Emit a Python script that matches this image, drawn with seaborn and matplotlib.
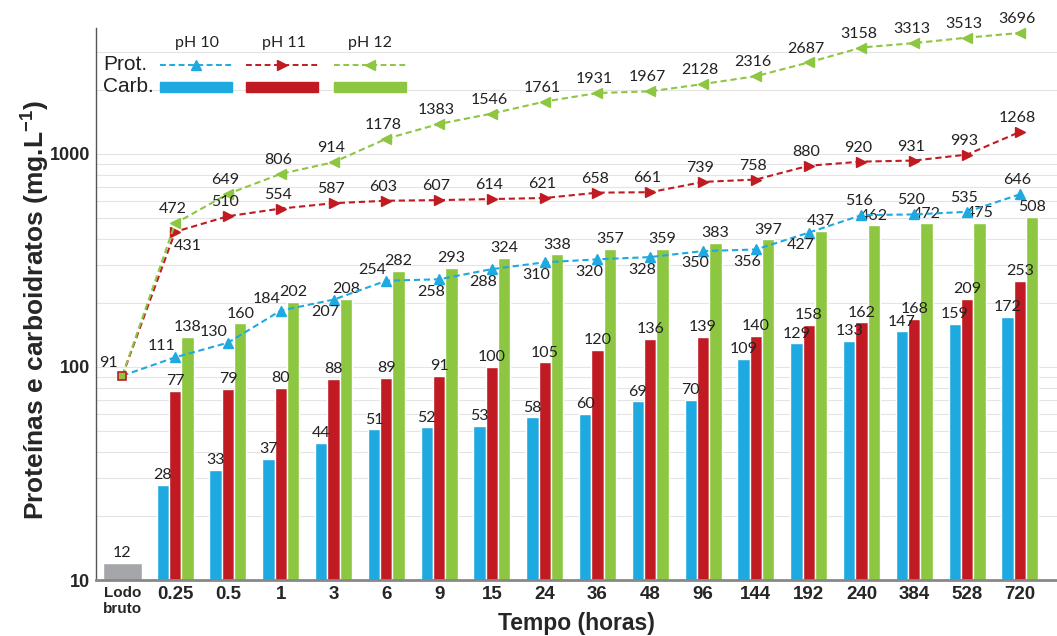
import matplotlib
matplotlib.use("Agg")
import matplotlib.pyplot as plt
import numpy as np
import pandas as pd
import seaborn as sns

categories = ["Lodo\nbruto", "0.25", "0.5", "1", "3", "6", "9", "15", "24", "36",
              "48", "96", "144", "192", "240", "384", "528", "720"]
ph_levels = ["pH 10", "pH 11", "pH 12"]

lodo_carb = 12
carb_ph10 = [28, 33, 37, 44, 51, 52, 53, 58, 60, 69, 70, 109, 129, 133, 147, 159, 172]
carb_ph11 = [77, 79, 80, 88, 89, 91, 100, 105, 120, 136, 139, 140, 158, 162, 168, 209, 253]
carb_ph12 = [138, 160, 202, 208, 282, 293, 324, 338, 357, 359, 383, 397, 437, 462, 472, 475, 508]

prot_ph10 = [91, 111, 130, 184, 207, 254, 258, 288, 310, 320, 328, 350, 356, 427, 516, 520, 535, 646]
prot_ph11 = [91, 431, 510, 554, 587, 603, 607, 614, 621, 658, 661, 739, 758, 880, 920, 931, 993, 1268]
prot_ph12 = [91, 472, 649, 806, 914, 1178, 1383, 1546, 1761, 1931, 1967, 2128, 2316, 2687, 3158, 3313, 3513, 3696]

BLUE = "#1EA9E1"
RED = "#C01B22"
GREEN = "#8DC641"
GRAY = "#A4A6A9"
LABEL_FONT = "Lato"
LABEL_SIZE = 11.5

# where each line label sits relative to its marker (offset in points)
OFFSETS = {"up": (-2, 5), "upleft": (-10, 3), "down": (-6, -14), "downright": (9, -15)}
place_ph10 = ["upleft", "upleft", "upleft", "upleft", "down", "upleft", "down", "down", "down",
              "down", "down", "down", "down", "down", "up", "up", "up", "up"]
place_ph11 = ["up", "downright"] + ["up"] * 16
place_ph12 = ["up"] * 18

sns.set_theme(style="white")
plt.rcParams["font.family"] = ["Liberation Sans", "DejaVu Sans"]

carb = pd.DataFrame({
    "tempo": categories[1:] * 3,
    "pH": np.repeat(ph_levels, len(carb_ph10)),
    "valor": carb_ph10 + carb_ph11 + carb_ph12,
})
lodo = pd.DataFrame({"tempo": [categories[0]], "valor": [lodo_carb]})

fig = plt.figure(figsize=(10.57, 6.36), dpi=100)
ax = fig.add_axes([0.0908, 0.088, 0.909, 0.868])

sns.barplot(data=lodo, x="tempo", y="valor", order=categories, color=GRAY,
            width=0.75, saturation=1, ax=ax)
sns.barplot(data=carb, x="tempo", y="valor", hue="pH", order=categories,
            hue_order=ph_levels, palette=[BLUE, RED, GREEN], width=0.7,
            saturation=1, legend=False, ax=ax)

for container in ax.containers:
    ax.bar_label(container, fmt="%d", padding=2, fontsize=LABEL_SIZE, family=LABEL_FONT,
                 color="#222222")

x = np.arange(len(categories))
series = [(prot_ph10, BLUE, "^", place_ph10),
          (prot_ph11, RED, ">", place_ph11),
          (prot_ph12, GREEN, "<", place_ph12)]
for values, color, marker, places in series:
    ax.plot(x, values, ls=(0, (3, 1.8)), lw=1.5, color=color, marker=marker,
            markersize=7.5, markevery=list(range(1, len(x))), zorder=4)
    for xi, v, p in list(zip(x, values, places))[1:]:
        ax.annotate(str(v), (xi, v), xytext=OFFSETS[p], textcoords="offset points",
                    ha="center", va="bottom", fontsize=LABEL_SIZE, family=LABEL_FONT,
                    color="#222222", zorder=5)

ax.plot([0], [prot_ph11[0]], marker="s", markersize=6, color=GREEN,
        markeredgecolor=RED, markeredgewidth=1.2, zorder=6)
ax.annotate(str(prot_ph10[0]), (0, prot_ph10[0]), xytext=(-10, 4),
            textcoords="offset points", ha="center", va="bottom",
            fontsize=LABEL_SIZE, family=LABEL_FONT, color="#222222")

ax.set_yscale("log")
ax.set_ylim(10, 3900)
ax.set_xlim(-0.5, 17.7)
ax.set_yticks([10, 100, 1000])
ax.set_yticklabels(["10", "100", "1000"], fontsize=13, fontweight="bold")
ax.set_xticks(x)
ax.set_xticklabels(categories, fontsize=13.5, fontweight="bold")
ax.get_xticklabels()[0].set_fontsize(11)
ax.tick_params(axis="both", length=0, pad=4)
ax.tick_params(axis="y", which="minor", length=0)
ax.grid(True, axis="y", which="both", color="#E4E4E4", lw=0.8)
ax.set_axisbelow(True)
ax.yaxis.set_minor_formatter(plt.NullFormatter())

for side in ["top", "right"]:
    ax.spines[side].set_visible(False)
ax.spines["left"].set_color("#555555")
ax.spines["bottom"].set_color("#888888")
ax.spines["left"].set_linewidth(1.0)
ax.spines["bottom"].set_linewidth(2.0)

ax.set_xlabel("Tempo (horas)", fontsize=16.5, fontweight="bold")
ax.xaxis.set_label_coords(0.5, -0.058)
ax.set_ylabel("Proteínas e carboidratos (mg.L$^{\\mathregular{-1}}$)", fontsize=19,
              fontweight="bold")
ax.yaxis.set_label_coords(-0.047, 0.49)


# hand-built legend, positions in figure pixels
def fx(px):
    return px / 1057


def fy(py):
    return 1 - py / 636


for name, cx in zip(ph_levels, [197, 284, 370]):
    fig.text(fx(cx), fy(43), name, ha="center", va="center", fontsize=LABEL_SIZE,
             family=LABEL_FONT, color="#222222")
fig.text(fx(103), fy(65), "Prot.", ha="left", va="center", fontsize=15, color="#222222")
fig.text(fx(103), fy(87), "Carb.", ha="left", va="center", fontsize=15, color="#222222")
for (color, marker), x0 in zip([(BLUE, "^"), (RED, ">"), (GREEN, "<")], [160, 246, 334]):
    fig.add_artist(plt.Line2D([fx(x0), fx(x0 + 72)], [fy(65), fy(65)], ls=(0, (3, 1.8)),
                              lw=1.4, color=color, transform=fig.transFigure))
    fig.add_artist(plt.Line2D([fx(x0 + 36)], [fy(65)], marker=marker, markersize=7.5,
                              color=color, transform=fig.transFigure))
    fig.add_artist(plt.Rectangle((fx(x0), fy(92)), fx(72), 10 / 636, color=color,
                                 transform=fig.transFigure))

fig.savefig("out.png", dpi=100)
